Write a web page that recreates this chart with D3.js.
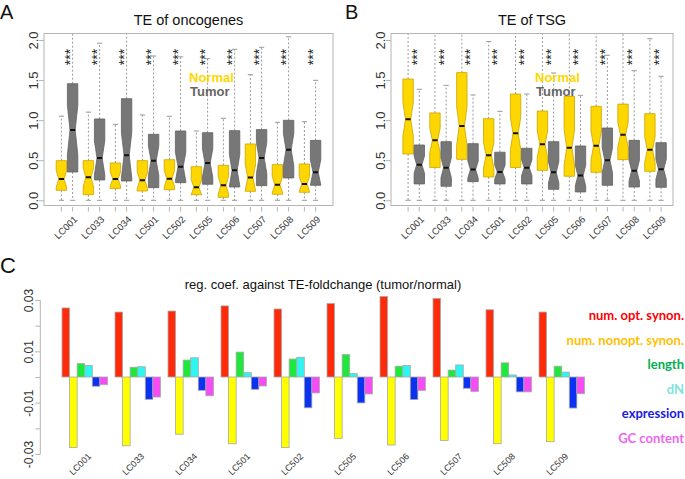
<!DOCTYPE html>
<html>
<head>
<meta charset="utf-8">
<script src="https://cdn.jsdelivr.net/npm/d3@7"></script>
<style>
  body { margin: 0; background: #fff; }
  svg { display: block; font-family: 'Liberation Sans', Arial, sans-serif; }
</style>
</head>
<body>
<svg id="chart" width="685" height="479"></svg>
<script>
// samples (cell lines)
const samples = ['LC001', 'LC033', 'LC034', 'LC501', 'LC502', 'LC505', 'LC506', 'LC507', 'LC508', 'LC509'];

// box stats [lower whisker, Q1, median, Q3, upper whisker]
const oncoNormal = [
  [0, 0.125, 0.266, 0.495, 1.05], [0, 0.07, 0.287, 0.495, 1.10], [0, 0.146, 0.266, 0.466, 0.948],
  [0, 0.116, 0.25, 0.495, 1.064], [0, 0.133, 0.27, 0.507, 1.048], [0, 0.07, 0.162, 0.42, 0.865],
  [0, 0.037, 0.187, 0.437, 1.023], [0, 0.112, 0.283, 0.703, 1.567], [0, 0.075, 0.195, 0.445, 0.973],
  [0, 0.1, 0.204, 0.453, 0.981]
];
const oncoTumor = [
  [0, 0.353, 0.877, 1.455, 2.4], [0, 0.254, 0.528, 1.015, 1.96], [0, 0.241, 0.561, 1.268, 2.4],
  [0, 0.158, 0.495, 0.823, 1.80], [0, 0.22, 0.42, 0.865, 1.79], [0, 0.2, 0.466, 0.844, 1.767],
  [0, 0.166, 0.374, 0.869, 1.884], [0, 0.183, 0.528, 0.882, 1.909], [0, 0.279, 0.632, 0.998, 2.04],
  [0, 0.187, 0.349, 0.748, 1.497]
];
const tsgNormal = [
  [0, 0.578, 1.01, 1.513, 2.4], [0, 0.41, 0.748, 1.09, 2.4], [0, 0.511, 0.927, 1.593, 2.4],
  [0, 0.291, 0.561, 1.019, 1.98], [0, 0.41, 0.836, 1.326, 2.4], [0, 0.374, 0.699, 1.114, 2.4],
  [0, 0.3, 0.657, 1.297, 2.4], [0, 0.349, 0.682, 1.173, 2.4], [0, 0.507, 0.819, 1.2, 2.4],
  [0, 0.362, 0.632, 1.081, 2.016]
];
const tsgTumor = [
  [0, 0.204, 0.445, 0.69, 1.385], [0, 0.175, 0.407, 0.732, 1.434], [0, 0.233, 0.383, 0.707, 1.314],
  [0, 0.204, 0.353, 0.6, 1.11], [0, 0.204, 0.407, 0.649, 1.326], [0, 0.137, 0.349, 0.732, 1.588],
  [0, 0.104, 0.308, 0.678, 1.31], [0, 0.187, 0.499, 0.902, 1.81], [0, 0.166, 0.37, 0.748, 1.617],
  [0, 0.162, 0.387, 0.719, 1.547]
];
// genes per box, used for the notch (1.58 * IQR / sqrt(n))
const oncoN = 32;
const tsgN = 50;
const oncoSig = ['***', '***', '***', '***', '***', '***', '***', '***', '***', '***'];
const tsgSig = ['***', '***', '***', '***', '***', '***', '***', '***', '***', '***'];
const boxTicks = [0, 0.5, 1, 1.5, 2];

// regression coefficients against TE fold change
const predictors = ['num. opt. synon.', 'num. nonopt. synon.', 'length', 'dN', 'expression', 'GC content'];
const optSynon = [0.0269, 0.0253, 0.0257, 0.0277, 0.0265, 0.0286, 0.0314, 0.0306, 0.0262, 0.0253];
const nonoptSynon = [-0.0275, -0.0268, -0.0223, -0.026, -0.0275, -0.0239, -0.0265, -0.0247, -0.026, -0.0252];
const geneLength = [0.0052, 0.0038, 0.0066, 0.0097, 0.007, 0.0087, 0.0042, 0.0027, 0.0055, 0.0042];
const dN = [0.0045, 0.004, 0.0075, 0.0017, 0.0077, 0.0013, 0.0045, 0.0047, 0.0008, 0.0019];
const expression = [-0.0036, -0.0087, -0.0052, -0.0048, -0.012, -0.0101, -0.0088, -0.0044, -0.0058, -0.0121];
const gcContent = [-0.003, -0.0078, -0.0073, -0.0035, -0.0062, -0.0066, -0.0052, -0.0056, -0.0058, -0.0065];
const coefTicks = [-0.03, -0.02, -0.01, 0, 0.01, 0.02, 0.03];
const coefLabels = [-0.03, -0.01, 0.01, 0.03];

const svg = d3.select('#chart');

const lineGrey = '#b4b4b4';
const textCol = '#333';

const drawBoxPanel = (cfg) => {
  const g = svg.append('g');
  const { left, right, top, bottom } = cfg.frame;

  const y = d3.scaleLinear().domain([0, 2]).range([200.3, 40]);
  const x = d3.scalePoint().domain(samples).range(cfg.xRange);
  const off = 5.6, w = 5.2;

  const clipId = 'clip' + cfg.id;
  g.append('clipPath').attr('id', clipId)
    .append('rect').attr('x', left).attr('y', top).attr('width', right - left).attr('height', bottom - top);

  const plot = g.append('g').attr('clip-path', 'url(#' + clipId + ')');

  const drawBox = (s, cx, fill, stroke, n) => {
    const [lo, q1, med, q3, hi] = s;
    const nh = 1.58 * (q3 - q1) / Math.sqrt(n);
    const bg = plot.append('g');
    // whiskers
    bg.append('line').attr('x1', cx).attr('x2', cx).attr('y1', y(q3)).attr('y2', y(hi))
      .attr('stroke', '#9a9a9a').attr('stroke-dasharray', '2,2');
    bg.append('line').attr('x1', cx).attr('x2', cx).attr('y1', y(q1)).attr('y2', y(lo))
      .attr('stroke', '#9a9a9a').attr('stroke-dasharray', '2,2');
    [lo, hi].forEach((v) => {
      bg.append('line').attr('x1', cx - w / 2).attr('x2', cx + w / 2).attr('y1', y(v)).attr('y2', y(v))
        .attr('stroke', '#9a9a9a');
    });
    const pts = [
      [cx - w, y(q1)], [cx + w, y(q1)], [cx + w, y(med - nh)], [cx + w / 2, y(med)],
      [cx + w, y(med + nh)], [cx + w, y(q3)], [cx - w, y(q3)], [cx - w, y(med + nh)],
      [cx - w / 2, y(med)], [cx - w, y(med - nh)]
    ];
    bg.append('polygon').attr('points', pts.map(p => p.join(',')).join(' '))
      .attr('fill', fill).attr('stroke', stroke).attr('stroke-width', 0.8);
    bg.append('line').attr('x1', cx - w / 2).attr('x2', cx + w / 2).attr('y1', y(med)).attr('y2', y(med))
      .attr('stroke', '#111').attr('stroke-width', 2);
  };

  samples.forEach((s, i) => {
    drawBox(cfg.normal[i], x(s) - off, '#ffd700', '#c9a400', cfg.n);
    drawBox(cfg.tumor[i], x(s) + off, '#777777', '#626262', cfg.n);
  });

  // significance stars
  g.selectAll('text.sig').data(samples).enter().append('text')
    .attr('class', 'sig')
    .attr('transform', (d) => 'translate(' + (x(d) + 8) + ',57) rotate(-90)')
    .attr('text-anchor', 'middle').attr('font-size', 14).attr('fill', '#222').attr('opacity', 0.99)
    .text((d, i) => cfg.sig[i]);

  g.append('rect').attr('x', left).attr('y', top).attr('width', right - left).attr('height', bottom - top)
    .attr('fill', 'none').attr('stroke', lineGrey);

  // y axis
  const yAxis = g.append('g').attr('transform', 'translate(' + left + ',0)')
    .call(d3.axisLeft(y).tickValues(boxTicks).tickSize(5).tickFormat(d3.format('.1f')));
  yAxis.select('.domain').remove();
  yAxis.selectAll('line').attr('stroke', lineGrey);
  yAxis.selectAll('text').attr('x', null).attr('dy', null)
    .attr('transform', 'translate(-6,0) rotate(-90)').attr('text-anchor', 'middle')
    .attr('font-size', 13).attr('fill', textCol).attr('font-family', 'Liberation Sans');

  // x ticks for each box
  samples.forEach((s) => {
    [-off, off].forEach((o) => {
      g.append('line').attr('x1', x(s) + o).attr('x2', x(s) + o).attr('y1', bottom + 1.5).attr('y2', bottom + 6)
        .attr('stroke', lineGrey);
    });
  });
  g.selectAll('text.xl').data(samples).enter().append('text')
    .attr('class', 'xl')
    .attr('transform', (d) => 'translate(' + (x(d) + 11) + ',' + (bottom + 14.5) + ') rotate(-45)')
    .attr('text-anchor', 'end').attr('font-size', 9.5).attr('fill', textCol)
    .text((d) => d);

  g.append('text').attr('x', (left + right) / 2).attr('y', 25).attr('text-anchor', 'middle')
    .attr('font-size', 14.5).attr('fill', '#111').text(cfg.title);

  g.append('text').attr('x', cfg.legendX).attr('y', 82).attr('font-size', 13).attr('font-weight', 'bold')
    .attr('fill', '#ffd700').text('Normal');
  g.append('text').attr('x', cfg.legendX + 1).attr('y', 96).attr('font-size', 13).attr('font-weight', 'bold')
    .attr('fill', '#666').text('Tumor');

  svg.append('text').attr('x', cfg.letterX).attr('y', 19).attr('font-size', 20)
    .attr('font-family', 'Liberation Sans').attr('fill', '#111').text(cfg.letter);
};

drawBoxPanel({
  id: 'A', letter: 'A', letterX: 0, title: 'TE of oncogenes',
  frame: { left: 44, right: 333, top: 33.5, bottom: 205.5 },
  xRange: [67, 310], normal: oncoNormal, tumor: oncoTumor, n: oncoN, sig: oncoSig, legendX: 189
});
drawBoxPanel({
  id: 'B', letter: 'B', letterX: 345, title: 'TE of TSG',
  frame: { left: 391, right: 673, top: 33.5, bottom: 205.5 },
  xRange: [413.7, 655.5], normal: tsgNormal, tumor: tsgTumor, n: tsgN, sig: tsgSig, legendX: 535
});

// panel C: grouped bars
const coefSeries = [optSynon, nonoptSynon, geneLength, dN, expression, gcContent];
const barColors = ['#ff2a0a', '#ffff00', '#1ee83c', '#2ef5f0', '#0a32f0', '#f54cf5'];
const legendColors = ['#ff0000', '#ffc000', '#00b050', '#7fe3dd', '#1a1adf', '#ee66ee'];

const yC = d3.scaleLinear().domain([-0.03, 0.03]).range([454, 300]);
const xC = d3.scaleBand().domain(samples).range([62, 62 + 10 * 53 - 53 / 7]).paddingInner(1 / 7).paddingOuter(0);
const xInner = d3.scaleBand().domain(d3.range(predictors.length)).range([0, xC.bandwidth()]);

const gC = svg.append('g');
samples.forEach((s, i) => {
  gC.selectAll(null).data(coefSeries.map((ser, k) => ({ k: k, v: ser[i] }))).enter().append('rect')
    .attr('x', (d) => xC(s) + xInner(d.k))
    .attr('y', (d) => yC(Math.max(0, d.v)))
    .attr('width', xInner.bandwidth())
    .attr('height', (d) => Math.abs(yC(d.v) - yC(0)))
    .attr('fill', (d) => barColors[d.k])
    .attr('stroke', '#a8a8a8').attr('stroke-width', 0.8);
});

const yAxisC = gC.append('g').attr('transform', 'translate(40.3,0)')
  .call(d3.axisLeft(yC).tickValues(coefTicks).tickSize(5).tickFormat((d) => coefLabels.some(v => Math.abs(v - d) < 1e-9) ? d3.format('.2f')(d) : ''));
yAxisC.select('.domain').attr('d', 'M0,' + yC(0.03) + 'V' + yC(-0.03)).attr('stroke', lineGrey);
yAxisC.selectAll('line').attr('stroke', lineGrey);
yAxisC.selectAll('text').attr('x', null).attr('dy', null)
  .attr('transform', 'translate(-7,0) rotate(-90)').attr('text-anchor', 'middle')
  .attr('font-size', 12).attr('fill', textCol).attr('font-family', 'Liberation Sans')
  .text(function () { return d3.select(this).text().replace('\u2212', '-'); });

gC.selectAll('text.xl').data(samples).enter().append('text')
  .attr('transform', (d) => 'translate(' + (xC(d) + xC.bandwidth() / 2 + 7) + ',457) rotate(-45)')
  .attr('text-anchor', 'end').attr('font-size', 9).attr('fill', textCol)
  .text((d) => d);

gC.append('text').attr('x', 323).attr('y', 289).attr('text-anchor', 'middle')
  .attr('font-size', 13).attr('fill', '#111').text('reg. coef. against TE-foldchange (tumor/normal)');

gC.selectAll('text.leg').data(predictors).enter().append('text')
  .attr('x', 684).attr('y', (d, i) => 320 + i * 24.5)
  .attr('text-anchor', 'end').attr('font-family', 'Lato').attr('font-weight', 'bold').attr('font-size', 13)
  .attr('fill', (d, i) => legendColors[i])
  .text((d) => d);

svg.append('text').attr('x', 0).attr('y', 273).attr('font-size', 22)
  .attr('font-family', 'Liberation Sans').attr('fill', '#111').text('C');
</script>
</body>
</html>
